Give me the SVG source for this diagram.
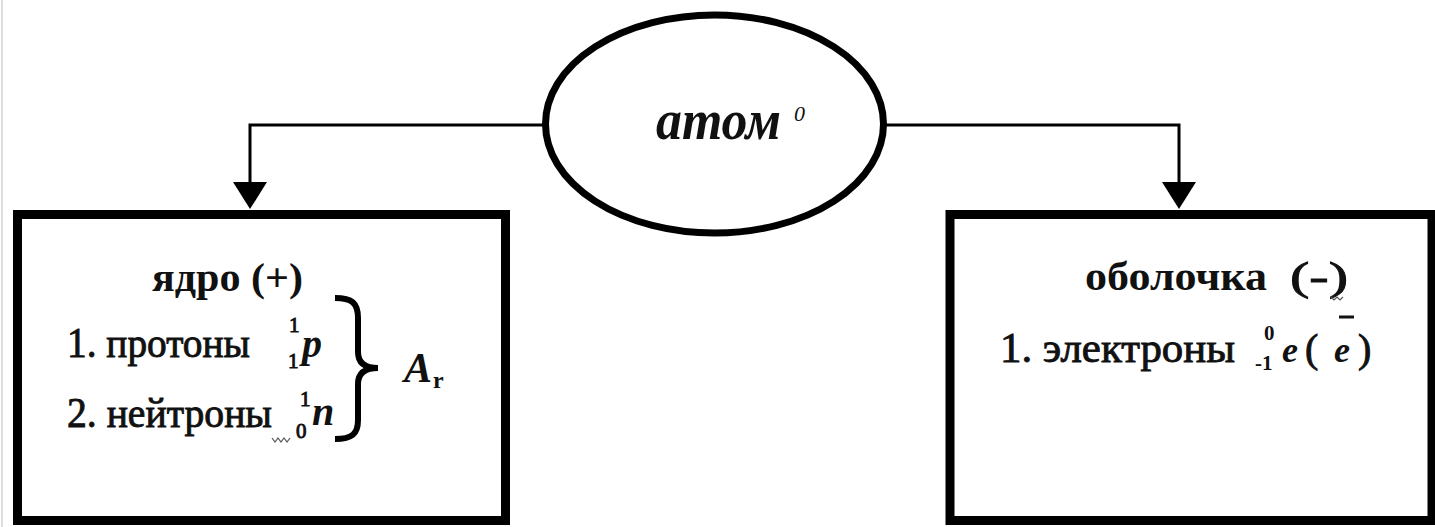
<svg xmlns="http://www.w3.org/2000/svg" width="1435" height="527" viewBox="0 0 1435 527">
<defs>
<style>
.box{fill:#fff;stroke:#000;stroke-width:9}
.ell{fill:#fff;stroke:#000;stroke-width:7}
.conn{fill:none;stroke:#000;stroke-width:3}
.head{fill:#000}
.t{font-family:"Liberation Serif","DejaVu Serif",serif;fill:#111}
.b{font-weight:bold}
.r{stroke:#111;stroke-width:0.9}
.i{font-style:italic}
.sm{font-size:21px}
.sq{fill:none;stroke:#555;stroke-width:1.2}
</style>
</defs>
<rect x="0" y="0" width="1435" height="527" fill="#fff"/>
<line x1="2" y1="0" x2="2" y2="527" stroke="#ddd" stroke-width="2"/>

<g id="connectors">
<polyline class="conn" points="546,125 250,125 250,184"/>
<polygon class="head" points="233,182 267,182 250,209"/>
<polyline class="conn" points="884,125 1179,125 1179,184"/>
<polygon class="head" points="1162,182 1196,182 1179,209"/>
</g>

<g id="atom">
<ellipse class="ell" cx="714.5" cy="124" rx="169" ry="109"/>
<text class="t b i" x="656" y="139" font-size="56" textLength="125" lengthAdjust="spacingAndGlyphs">атом</text>
<text class="t i" x="794" y="121" font-size="22">0</text>
</g>

<g id="nucleus">
<rect class="box" x="17.5" y="214.5" width="488" height="306"/>
<text class="t b" x="152" y="291" font-size="40" textLength="151" lengthAdjust="spacingAndGlyphs">ядро (+)</text>
<text class="t r" x="67" y="357" font-size="42" textLength="183" lengthAdjust="spacingAndGlyphs">1. протоны</text>
<text class="t r sm" x="289" y="332">1</text>
<text class="t r sm" x="288" y="368">1</text>
<text class="t b i" x="302" y="357" font-size="40">p</text>
<text class="t r" x="67" y="427" font-size="42" textLength="205" lengthAdjust="spacingAndGlyphs">2. нейтроны</text>
<text class="t r sm" x="300" y="406">1</text>
<text class="t r sm" x="296" y="438">0</text>
<text class="t b i" x="312" y="425" font-size="40">n</text>
<path class="sq" d="M272,438 l3,4 l3,-4 l3,4 l3,-4 l3,4 l3,-4"/>
<path d="M335,298 C352,298 358,303 358,318 L358,352 C358,362 364,368 378,368 C364,368 358,374 358,384 L358,420 C358,434 352,439 335,439" fill="none" stroke="#000" stroke-width="6"/>
<text class="t b i" x="404" y="382" font-size="42">A</text>
<text class="t b" x="433" y="388" font-size="24">r</text>
</g>

<g id="shell">
<rect class="box" x="950" y="214.5" width="482" height="306"/>
<text class="t b" x="1085" y="290" font-size="40" textLength="182" lengthAdjust="spacingAndGlyphs">оболочка</text>
<text class="t r" x="1290" y="290" font-size="40" textLength="58" lengthAdjust="spacingAndGlyphs">(-)</text>
<path class="sq" d="M1331,297 l3,3 l3,-3 l3,3 l3,-3"/>
<text class="t r" x="1000" y="362" font-size="42" textLength="235" lengthAdjust="spacingAndGlyphs">1. электроны</text>
<text class="t b sm" x="1264" y="340" font-size="20">0</text>
<text class="t b sm" x="1255" y="370" font-size="20">-1</text>
<text class="t b i" x="1282" y="362" font-size="36">e</text>
<text class="t r" x="1305" y="362" font-size="40">(</text>
<text class="t b i" x="1334" y="362" font-size="36">e</text>
<line x1="1339" y1="317" x2="1354" y2="317" stroke="#111" stroke-width="3"/>
<text class="t r" x="1358" y="362" font-size="40">)</text>
</g>
</svg>
